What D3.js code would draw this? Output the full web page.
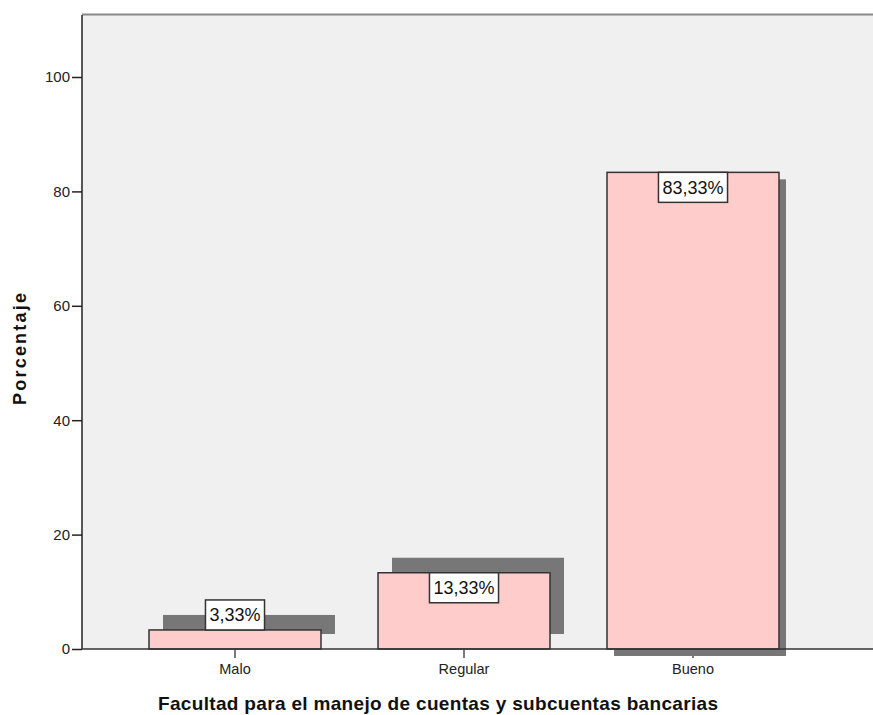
<!DOCTYPE html>
<html>
<head>
<meta charset="utf-8">
<script src="https://cdn.jsdelivr.net/npm/d3@7"></script>
<style>
  html, body { margin: 0; padding: 0; background: #fff; }
  svg { display: block; font-family: "Liberation Sans", Arial, sans-serif; }
</style>
</head>
<body>
<svg id="chart" width="873" height="715"></svg>
<script>
// Categories and percentage values
const categories = ["Malo", "Regular", "Bueno"];
const percentages = [3.33, 13.33, 83.33];
const yTicks = [0, 20, 40, 60, 80, 100];
const xTitle = "Facultad para el manejo de cuentas y subcuentas bancarias";
const yTitle = "Porcentaje";

const W = 873, H = 715;
const plot = { left: 82, right: 873, top: 15, bottom: 649 };

// Drop-shadow offsets behind each bar (pixels)
const shadowOffsets = [[14, -15], [14, -15], [7, 7]];

const svg = d3.select("#chart");

const x = d3.scaleBand()
  .domain(categories)
  .range([plot.left, 846])
  .paddingInner(0.249)
  .paddingOuter(0.2926);

const y = d3.scaleLinear()
  .domain([0, 100])
  .range([plot.bottom, 77]);

const fmt = v => d3.format(".2f")(v).replace(".", ",") + "%";

// plot background
svg.append("rect")
  .attr("x", plot.left).attr("y", plot.top)
  .attr("width", plot.right - plot.left).attr("height", plot.bottom - plot.top)
  .attr("fill", "#f0f0f0");

// top frame line
svg.append("line")
  .attr("x1", plot.left).attr("x2", plot.right)
  .attr("y1", plot.top - 0.5).attr("y2", plot.top - 0.5)
  .attr("stroke", "#888").attr("stroke-width", 2);

// x axis ticks and labels
const xAxis = d3.axisBottom(x).tickSize(9).tickPadding(6).tickSizeOuter(0);
const gx = svg.append("g")
  .attr("transform", `translate(0,${plot.bottom})`)
  .call(xAxis);
gx.select(".domain").remove();
gx.selectAll(".tick line").attr("stroke", "#222").attr("stroke-width", 1.2);
gx.selectAll(".tick text")
  .attr("font-size", 14.5).attr("fill", "#222")
  .attr("font-family", "Liberation Sans, Arial, sans-serif");

const data = categories.map((c, i) => ({ c, v: percentages[i], off: shadowOffsets[i] }));

// shadows
svg.append("g").selectAll("rect")
  .data(data).join("rect")
  .attr("x", d => x(d.c) + d.off[0])
  .attr("y", d => y(d.v) + d.off[1])
  .attr("width", x.bandwidth())
  .attr("height", d => y(0) - y(d.v))
  .attr("fill", "#777");

// bars
svg.append("g").selectAll("rect")
  .data(data).join("rect")
  .attr("x", d => x(d.c))
  .attr("y", d => y(d.v))
  .attr("width", x.bandwidth())
  .attr("height", d => y(0) - y(d.v))
  .attr("fill", "#ffcccc")
  .attr("stroke", "#333")
  .attr("stroke-width", 1.5);

// y axis
const yAxis = d3.axisLeft(y).tickValues(yTicks).tickSize(10).tickPadding(2).tickSizeOuter(0);
const gy = svg.append("g")
  .attr("transform", `translate(${plot.left},0)`)
  .call(yAxis);
gy.select(".domain").remove();
gy.selectAll(".tick line").attr("stroke", "#222").attr("stroke-width", 1.5);
gy.selectAll(".tick text")
  .attr("font-size", 15).attr("fill", "#222")
  .attr("font-family", "Liberation Sans, Arial, sans-serif");

// axis lines
svg.append("line")
  .attr("x1", plot.left).attr("x2", plot.left)
  .attr("y1", plot.top).attr("y2", plot.bottom)
  .attr("stroke", "#222").attr("stroke-width", 1.5);
svg.append("line")
  .attr("x1", plot.left).attr("x2", plot.right)
  .attr("y1", plot.bottom).attr("y2", plot.bottom)
  .attr("stroke", "#333").attr("stroke-width", 1.5);

// value labels in boxes
const boxH = 30, padX = 4;
const lg = svg.append("g");
data.forEach(d => {
  const g = lg.append("g");
  const t = g.append("text")
    .attr("font-size", 18).attr("fill", "#111")
    .attr("text-anchor", "middle")
    .text(fmt(d.v));
  const tw = t.node().getComputedTextLength();
  const cx = x(d.c) + x.bandwidth() / 2;
  const barH = y(0) - y(d.v);
  const top = barH < boxH ? y(d.v) - boxH : y(d.v);
  g.insert("rect", "text")
    .attr("x", cx - tw / 2 - padX).attr("y", top)
    .attr("width", tw + 2 * padX).attr("height", boxH)
    .attr("fill", "#fff").attr("stroke", "#333").attr("stroke-width", 1.5);
  t.attr("x", cx).attr("y", top + boxH / 2 + 6.5);
});

// axis titles
svg.append("text")
  .attr("x", 438).attr("y", 710)
  .attr("text-anchor", "middle")
  .attr("font-size", 19).attr("font-weight", "bold").attr("fill", "#111")
  .attr("textLength", 560).attr("lengthAdjust", "spacing")
  .text(xTitle);

svg.append("text")
  .attr("transform", "translate(26,349) rotate(-90)")
  .attr("text-anchor", "middle")
  .attr("font-size", 18).attr("font-weight", "bold").attr("fill", "#111")
  .attr("textLength", 112).attr("lengthAdjust", "spacing")
  .text(yTitle);
</script>
</body>
</html>
